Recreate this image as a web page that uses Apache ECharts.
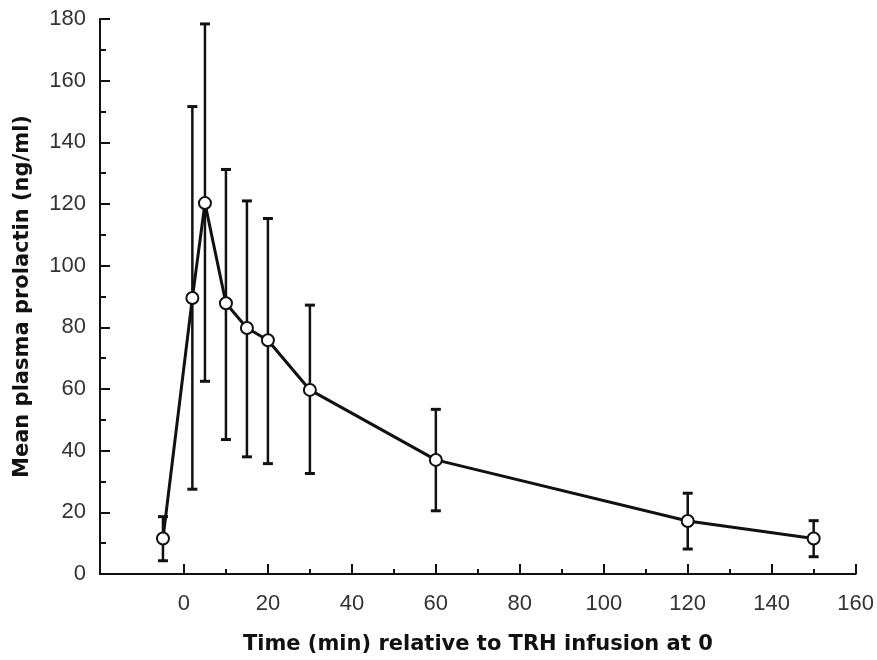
<!DOCTYPE html>
<html>
<head>
<meta charset="utf-8">
<script src="https://cdn.jsdelivr.net/npm/echarts@6/dist/echarts.min.js"></script>
<style>html,body{margin:0;padding:0;background:#fff}#c{width:877px;height:660px}</style>
</head>
<body>
<div id="c"></div>
<script>
// Data
var times = [-5, 2, 5, 10, 15, 20, 30, 60, 120, 150];
var means = [11.5, 89.5, 120.3, 87.8, 79.8, 75.8, 59.7, 37, 17.2, 11.5];
var upper = [18.6, 151.6, 178.4, 131.2, 121, 115.3, 87.2, 53.4, 26.2, 17.3];
var lower = [4.3, 27.5, 62.5, 43.6, 38, 35.8, 32.6, 20.5, 8.1, 5.6];
var xMajorTicks = [0, 20, 40, 60, 80, 100, 120, 140, 160];
var xMinorTicks = [10, 30, 50, 70, 90, 110, 130, 150];

var lineData = times.map(function (t, i) { return [t, means[i]]; });
var errData = times.map(function (t, i) { return [t, lower[i], upper[i]]; });

var ink = '#111';
var labelFont = {fontFamily: "'Liberation Sans Narrow','Arial Narrow','Liberation Sans',Arial,sans-serif", fontSize: 22, color: '#333'};
var titleFont = {fontFamily: "'DejaVu Sans',sans-serif", fontWeight: 'bold', fontSize: 21, color: ink};

var chart = echarts.init(document.getElementById('c'), null, {renderer: 'canvas'});
chart.setOption({
  animation: false,
  backgroundColor: '#fff',
  grid: {left: 100, right: 19, top: 19, bottom: 86, containLabel: false},
  xAxis: [{
    type: 'value', min: -20, max: 160, interval: 20, position: 'bottom',
    name: 'Time (min) relative to TRH infusion at 0',
    nameLocation: 'middle', nameGap: 60,
    nameTextStyle: titleFont,
    axisLine: {show: true, onZero: false, lineStyle: {color: ink, width: 2}},
    axisTick: {show: true, inside: true, length: 10, lineStyle: {color: ink, width: 2}, customValues: xMajorTicks},
    axisLabel: Object.assign({show: true, margin: 19, customValues: xMajorTicks}, labelFont),
    splitLine: {show: false}
  }, {
    type: 'value', min: -20, max: 160, interval: 20, position: 'bottom',
    axisLine: {show: false, onZero: false},
    axisTick: {show: true, inside: true, length: 5, lineStyle: {color: ink, width: 2}, customValues: xMinorTicks},
    axisLabel: {show: false},
    splitLine: {show: false}
  }],
  yAxis: {
    type: 'value', min: 0, max: 180, interval: 20, position: 'left',
    name: 'Mean plasma prolactin (ng/ml)',
    nameLocation: 'middle', nameGap: 67, nameRotate: 90,
    nameTextStyle: titleFont,
    axisLine: {show: true, onZero: false, lineStyle: {color: ink, width: 2}},
    axisTick: {show: true, inside: true, length: 10, lineStyle: {color: ink, width: 2}},
    minorTick: {show: true, splitNumber: 2, length: 6, lineStyle: {color: ink, width: 2}},
    axisLabel: Object.assign({margin: 14}, labelFont),
    splitLine: {show: false}
  },
  series: [{
    type: 'custom',
    xAxisIndex: 0,
    z: 1,
    data: errData,
    renderItem: function (params, api) {
      var x = api.value(0);
      var lo = api.coord([x, api.value(1)]);
      var hi = api.coord([x, api.value(2)]);
      var hw = 5;
      var st = {stroke: ink, lineWidth: 2.5, fill: null};
      return {
        type: 'group',
        children: [
          {type: 'line', shape: {x1: lo[0], y1: lo[1], x2: hi[0], y2: hi[1]}, style: st},
          {type: 'line', shape: {x1: hi[0] - hw, y1: hi[1], x2: hi[0] + hw, y2: hi[1]}, style: {stroke: ink, lineWidth: 3}},
          {type: 'line', shape: {x1: lo[0] - hw, y1: lo[1], x2: lo[0] + hw, y2: lo[1]}, style: {stroke: ink, lineWidth: 3}}
        ]
      };
    }
  }, {
    type: 'line',
    xAxisIndex: 0,
    z: 3,
    data: lineData,
    symbol: 'circle',
    symbolSize: 12,
    showAllSymbol: true,
    lineStyle: {color: ink, width: 3},
    itemStyle: {color: '#fff', borderColor: ink, borderWidth: 2}
  }]
});
</script>
</body>
</html>
